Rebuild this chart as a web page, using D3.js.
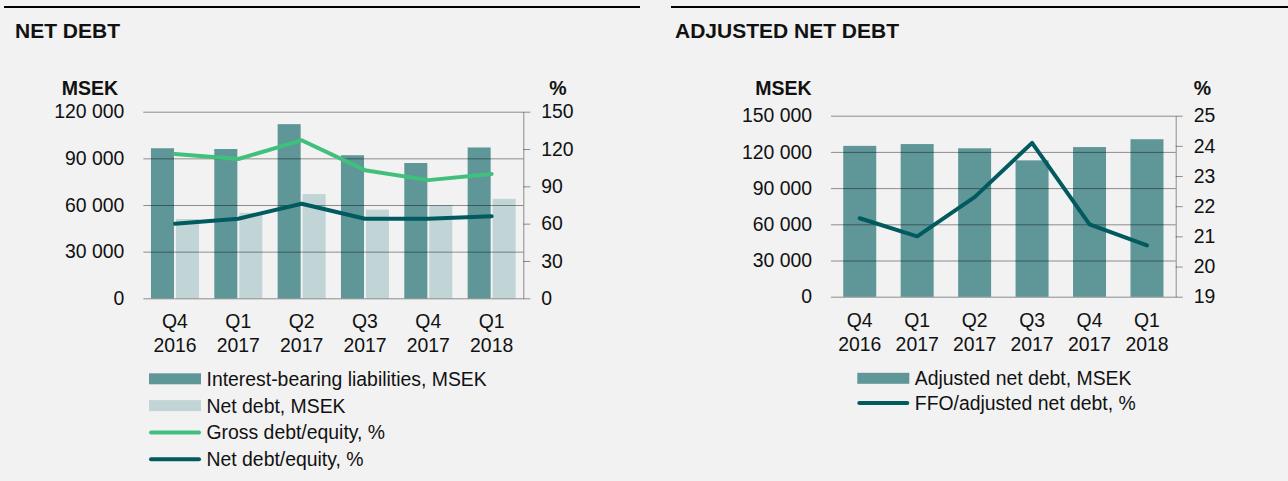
<!DOCTYPE html>
<html>
<head>
<meta charset="utf-8">
<script src="https://cdn.jsdelivr.net/npm/d3@7"></script>
<style>
  html, body { margin: 0; padding: 0; background: #f2f2f2; }
  svg { display: block; }
  text { font-family: "Liberation Sans", Arial, sans-serif; fill: #111; }
</style>
</head>
<body>
<svg id="chart" width="1288" height="481"></svg>
<script>
// ---------- DATA ----------
const categories = ["Q4 2016", "Q1 2017", "Q2 2017", "Q3 2017", "Q4 2017", "Q1 2018"];

// Left chart: NET DEBT
const interestBearing = [96500, 96000, 112000, 92000, 87000, 97000];
const netDebt = [51000, 55000, 67000, 57000, 60000, 64000];
const grossDebtEquity = [116, 112, 127, 103, 95, 100];
const netDebtEquity = [60, 64, 76, 64, 64, 66];
const leftTicksA = [0, 30000, 60000, 90000, 120000];
const leftTicksB = [0, 30, 60, 90, 120, 150];

// Right chart: ADJUSTED NET DEBT
const adjustedNetDebt = [125000, 126500, 123000, 113000, 124000, 130500];
const ffoAdjNetDebt = [21.6, 21.0, 22.3, 24.1, 21.4, 20.7];
const rightTicksA = [0, 30000, 60000, 90000, 120000, 150000];
const rightTicksB = [19, 20, 21, 22, 23, 24, 25];

const legendLeft = ["Interest-bearing liabilities, MSEK", "Net debt, MSEK", "Gross debt/equity, %", "Net debt/equity, %"];
const legendRight = ["Adjusted net debt, MSEK", "FFO/adjusted net debt, %"];

// ---------- STYLE ----------
const C = {
  dark: "#5f9799",
  light: "#c1d5d7",
  green: "#40c07c",
  line: "#005a5e",
  grid: "rgba(0,0,0,0.42)"
};
const FS = 19.4;

const locale = d3.formatLocale({ decimal: ",", thousands: " ", grouping: [3], currency: ["", ""] });
const fmt = locale.format(",d");
const fmtPct = d3.format("d");

const svg = d3.select("#chart");
svg.append("rect").attr("width", 1288).attr("height", 481).attr("fill", "#f2f2f2");

function drawPanel(cfg) {
  const g = svg.append("g");
  // top rule
  g.append("line").attr("x1", cfg.ruleX0).attr("x2", cfg.ruleX1).attr("y1", 7).attr("y2", 7)
    .attr("stroke", "#000").attr("stroke-width", 2);
  // title
  g.append("text").attr("x", cfg.titleX).attr("y", 37.5).attr("font-size", 21).attr("font-weight", "bold")
    .text(cfg.title);

  const x = d3.scaleBand().domain(categories).range([cfg.x0, cfg.x1]).paddingInner(0).paddingOuter(0);
  const yA = d3.scaleLinear().domain(cfg.domA).range([cfg.yB, cfg.yT]);
  const yB = d3.scaleLinear().domain(cfg.domB).range([cfg.yB, cfg.yT]);

  // bars
  const inner = d3.scaleBand().domain(cfg.bars.map((b, i) => i))
    .range([0, cfg.groupW]).paddingInner(cfg.barGap / (cfg.groupW + cfg.barGap) * (cfg.bars.length > 1 ? 1 : 0));
  cfg.bars.forEach((b, bi) => {
    g.append("g").selectAll("rect").data(b.values).join("rect")
      .attr("x", (d, i) => x(categories[i]) + x.bandwidth() / 2 - cfg.groupW / 2 + inner(bi))
      .attr("width", inner.bandwidth())
      .attr("y", d => yA(d))
      .attr("height", d => yA(0) - yA(d))
      .attr("fill", b.color);
  });

  // left axis with gridlines
  const axA = g.append("g").attr("transform", `translate(${cfg.x0},0)`)
    .call(d3.axisLeft(yA).tickValues(cfg.ticksA).tickFormat(fmt)
      .tickSize(-(cfg.x1 - cfg.x0)).tickPadding(19));
  axA.select(".domain").remove();
  axA.selectAll(".tick line").attr("stroke", C.grid).attr("stroke-width", 1);
  axA.selectAll(".tick text").attr("font-size", FS).attr("fill", "#111")
    .attr("font-family", "Liberation Sans, Arial, sans-serif");

  // right axis
  const axB = g.append("g").attr("transform", `translate(${cfg.x1},0)`)
    .call(d3.axisRight(yB).tickValues(cfg.ticksB).tickFormat(fmtPct)
      .tickSize(7).tickSizeOuter(0).tickPadding(11));
  axB.select(".domain").attr("stroke", C.grid);
  axB.selectAll(".tick line").attr("stroke", C.grid);
  axB.selectAll(".tick text").attr("font-size", FS).attr("fill", "#111")
    .attr("font-family", "Liberation Sans, Arial, sans-serif");

  // unit labels
  g.append("text").attr("x", cfg.msekX).attr("y", 95).attr("text-anchor", "middle")
    .attr("font-size", 19.5).attr("font-weight", "bold").text("MSEK");
  g.append("text").attr("x", cfg.pctX).attr("y", 95).attr("text-anchor", "middle")
    .attr("font-size", 19.5).attr("font-weight", "bold").text("%");

  // lines
  cfg.lines.forEach(l => {
    const gen = d3.line().x((d, i) => x(categories[i]) + x.bandwidth() / 2).y(d => yB(d));
    g.append("path").datum(l.values).attr("d", gen).attr("fill", "none")
      .attr("stroke", l.color).attr("stroke-width", 4)
      .attr("stroke-linejoin", "round").attr("stroke-linecap", "round");
  });

  // x labels
  const axX = g.append("g").selectAll("text").data(categories).join("text")
    .attr("text-anchor", "middle").attr("font-size", FS);
  axX.append("tspan").attr("x", d => x(d) + x.bandwidth() / 2).attr("y", cfg.yB + 30)
    .text(d => d.split(" ")[0]);
  axX.append("tspan").attr("x", d => x(d) + x.bandwidth() / 2).attr("y", cfg.yB + 54)
    .text(d => d.split(" ")[1]);

  // legend
  const lg = g.append("g");
  cfg.legend.forEach((item, i) => {
    const cy = cfg.legY + i * cfg.legStep;
    if (item.type === "rect") {
      lg.append("rect").attr("x", cfg.legX).attr("y", cy - 5.5).attr("width", 52).attr("height", 11)
        .attr("fill", item.color);
    } else {
      lg.append("line").attr("x1", cfg.legX + 2).attr("x2", cfg.legX + 50).attr("y1", cy).attr("y2", cy)
        .attr("stroke", item.color).attr("stroke-width", 4).attr("stroke-linecap", "round");
    }
    lg.append("text").attr("x", cfg.legX + 57.5).attr("y", cy).attr("dy", "0.36em")
      .attr("font-size", FS).text(item.label);
  });
}

drawPanel({
  title: "NET DEBT", titleX: 15, ruleX0: 4, ruleX1: 640,
  x0: 143.3, x1: 523.3, yT: 111.7, yB: 298.3,
  domA: [0, 120000], domB: [0, 150],
  ticksA: leftTicksA, ticksB: leftTicksB,
  groupW: 48, barGap: 4,
  bars: [{ values: interestBearing, color: C.dark }, { values: netDebt, color: C.light }],
  lines: [{ values: grossDebtEquity, color: C.green }, { values: netDebtEquity, color: C.line }],
  msekX: 90, pctX: 558,
  legX: 149, legY: 378.8, legStep: 26.8,
  legend: [
    { type: "rect", color: C.dark, label: legendLeft[0] },
    { type: "rect", color: C.light, label: legendLeft[1] },
    { type: "line", color: C.green, label: legendLeft[2] },
    { type: "line", color: C.line, label: legendLeft[3] }
  ]
});

drawPanel({
  title: "ADJUSTED NET DEBT", titleX: 675, ruleX0: 671, ruleX1: 1288,
  x0: 831, x1: 1175.7, yT: 115.7, yB: 296.7,
  domA: [0, 150000], domB: [19, 25],
  ticksA: rightTicksA, ticksB: rightTicksB,
  groupW: 33, barGap: 0,
  bars: [{ values: adjustedNetDebt, color: C.dark }],
  lines: [{ values: ffoAdjNetDebt, color: C.line }],
  msekX: 783.5, pctX: 1202.5,
  legX: 857.3, legY: 378.3, legStep: 24.6,
  legend: [
    { type: "rect", color: C.dark, label: legendRight[0] },
    { type: "line", color: C.line, label: legendRight[1] }
  ]
});
</script>
</body>
</html>
